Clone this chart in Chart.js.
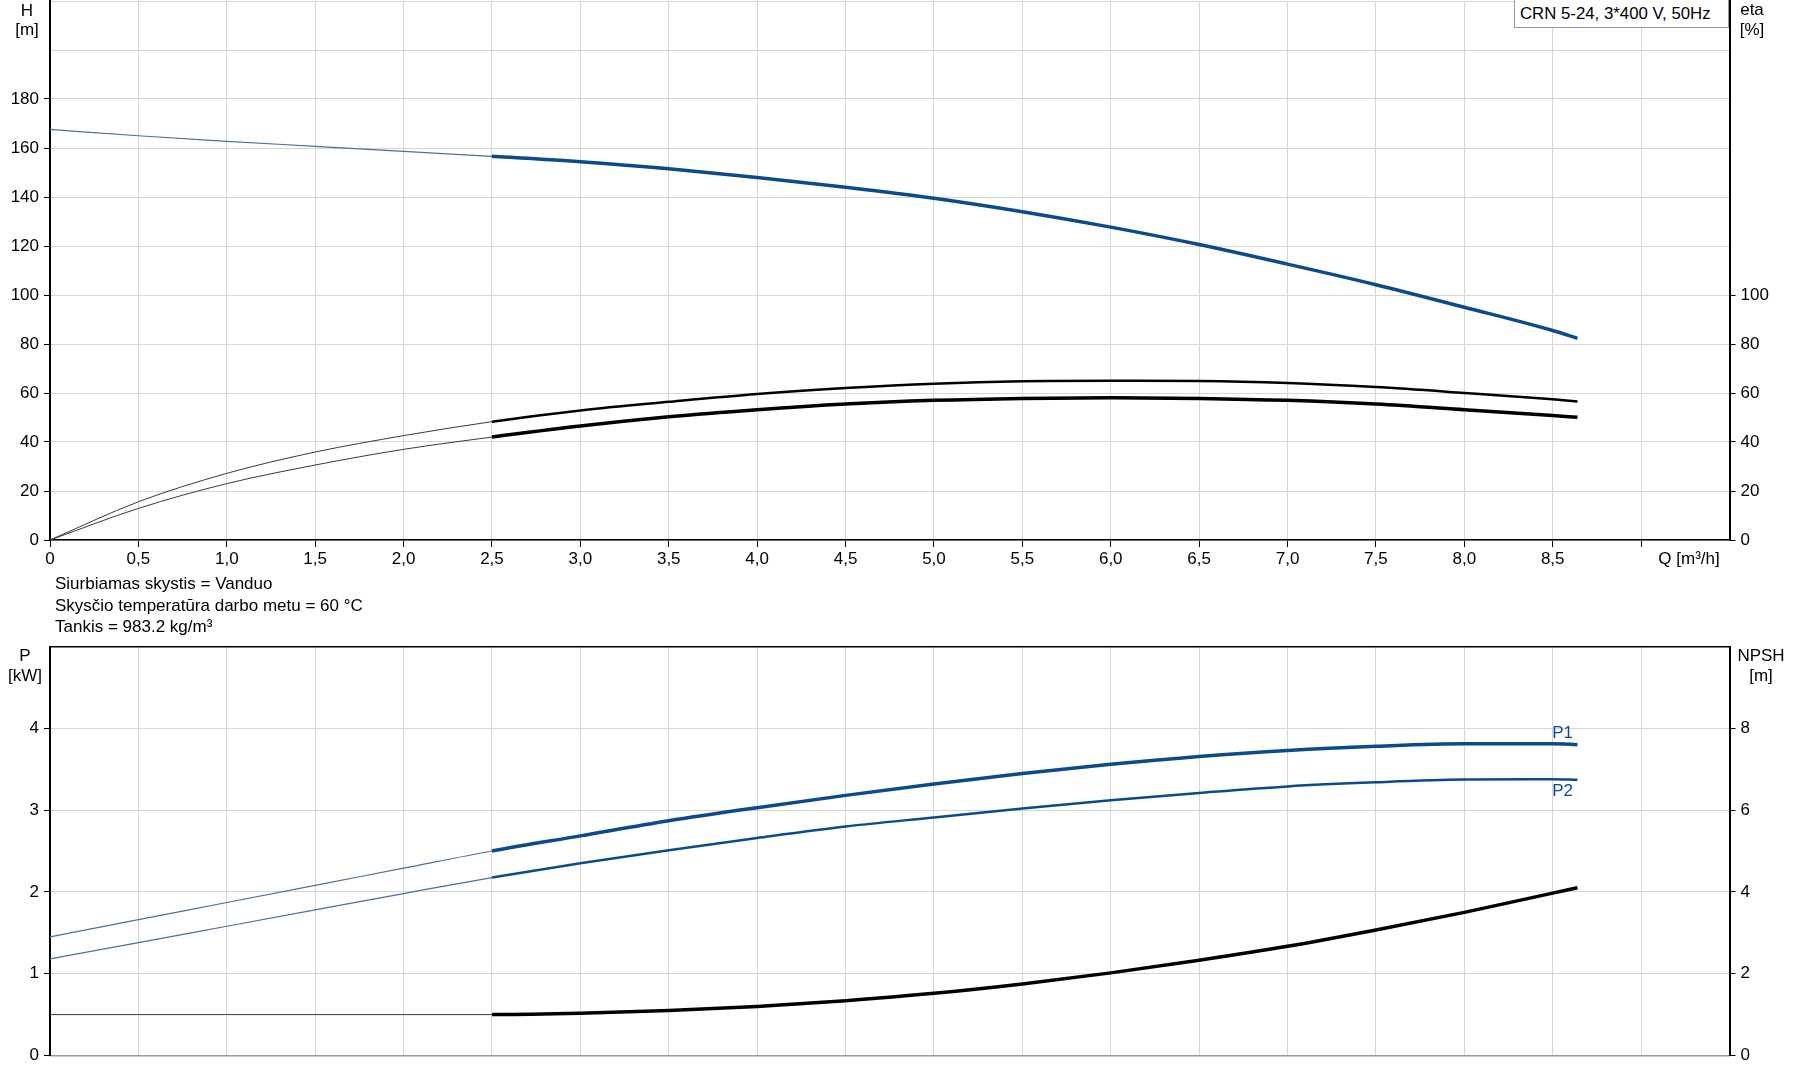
<!DOCTYPE html>
<html><head><meta charset="utf-8">
<script src="https://cdn.jsdelivr.net/npm/chart.js@4"></script>
<style>
html,body{margin:0;padding:0;background:#fff}
body{width:1795px;height:1081px;overflow:hidden;position:relative;font-family:"Liberation Sans",Arial,sans-serif;font-size:17px;color:#000}
canvas{position:absolute;left:0}
.t{position:absolute;white-space:nowrap;line-height:1;transform:translate(-50%,-50%)}
.l{position:absolute;white-space:nowrap;line-height:1;transform:translate(0,-50%)}
#legend{position:absolute;left:1514px;top:0;width:215px;height:28px;border:1px solid #9a9a9a;border-top:none;box-sizing:border-box;background:#fff}
#legend span{position:absolute;left:5px;top:14px;transform:translateY(-50%);white-space:nowrap;line-height:1;font-size:16.8px}
</style></head><body>
<canvas id="topc" width="1795" height="575" style="top:0"></canvas>
<canvas id="botc" width="1795" height="481" style="top:600px"></canvas>

<div id="legend"><span>CRN 5-24, 3*400 V, 50Hz</span></div>
<div class="t" style="left:27px;top:10px">H</div>
<div class="t" style="left:27px;top:29px">[m]</div>
<div class="t" style="left:1752px;top:9px">eta</div>
<div class="t" style="left:1752px;top:29px">[%]</div>
<div class="t" style="left:1689px;top:558px">Q [m³/h]</div>
<div class="l" style="left:55px;top:583px">Siurbiamas skystis = Vanduo</div>
<div class="l" style="left:55px;top:605px">Skysčio temperatūra darbo metu = 60 °C</div>
<div class="l" style="left:55px;top:626px">Tankis = 983.2 kg/m³</div>
<div class="t" style="left:25px;top:655px">P</div>
<div class="t" style="left:25px;top:675px">[kW]</div>
<div class="t" style="left:1761px;top:655px">NPSH</div>
<div class="t" style="left:1761px;top:675px">[m]</div>

<script>
// ---- data ----
const Q        = [0, 0.5, 1, 1.5, 2, 2.5, 3, 3.5, 4, 4.5, 5, 5.5, 6, 6.5, 7, 7.5, 8, 8.5, 8.64];
const H        = [167.6, 165.0, 162.7, 160.7, 158.6, 156.6, 154.4, 151.5, 148.0, 144.0, 139.5, 134.0, 127.7, 120.6, 112.6, 104.2, 95.0, 85.5, 82.3];
const ETA      = [0, 15.6, 27.2, 35.9, 42.6, 48.3, 52.9, 56.4, 59.6, 62.0, 63.8, 64.8, 65.0, 64.9, 64.1, 62.4, 60.0, 57.4, 56.5];
const ETA_TOT  = [0, 12.9, 23.0, 30.6, 37.0, 42.0, 46.5, 50.3, 53.2, 55.5, 57.0, 57.8, 58.1, 57.8, 57.0, 55.5, 53.2, 50.8, 50.1];
const P1       = [1.45, 1.66, 1.87, 2.08, 2.29, 2.50, 2.685, 2.87, 3.03, 3.18, 3.32, 3.447, 3.56, 3.656, 3.73, 3.78, 3.81, 3.81, 3.80];
const P2       = [1.18, 1.38, 1.58, 1.78, 1.98, 2.175, 2.35, 2.51, 2.66, 2.80, 2.91, 3.02, 3.12, 3.21, 3.29, 3.34, 3.373, 3.377, 3.37];
const NPSH     = [1.0, 1.0, 1.0, 1.0, 1.0, 1.0, 1.03, 1.1, 1.2, 1.34, 1.52, 1.75, 2.02, 2.33, 2.67, 3.07, 3.5, 3.97, 4.1];

const X_TICKS  = [0,0.5,1,1.5,2,2.5,3,3.5,4,4.5,5,5.5,6,6.5,7,7.5,8,8.5,9,9.5];
const X_LABELS = ['0','0,5','1,0','1,5','2,0','2,5','3,0','3,5','4,0','4,5','5,0','5,5','6,0','6,5','7,0','7,5','8,0','8,5','',''];
const H_TICKS  = [0,20,40,60,80,100,120,140,160,180,200,220];
const H_LABELS = ['0','20','40','60','80','100','120','140','160','180','',''];
const ETA_TICKS  = [0,20,40,60,80,100,120,140,160,180,200,220];
const ETA_LABELS = ['0','20','40','60','80','100','','','','','',''];
const P_TICKS  = [0,1,2,3,4,5];
const P_LABELS = ['0','1','2','3','4',''];
const N_TICKS  = [0,2,4,6,8,10];
const N_LABELS = ['0','2','4','6','8',''];
const DUTY_START = 2.5;

// ---- styling ----
const FONT = {family:'"Liberation Sans", Arial, sans-serif', size:17};
const BLUE = '#0b4b8c';
const THIN_BLUE = '#4f6f96';
const THIN_BLACK = '#3a3a3a';
const GRID = '#d6d6d6';

function pts(ys){ return Q.map((q,i)=>({x:q, y:ys[i]})); }
function line(label, ys, axis, thinC, thickC, thinW, thickW){
  return {
    label, data: pts(ys), yAxisID: axis,
    borderColor: thickC, borderWidth: thickW, pointRadius: 0, fill: false,
    cubicInterpolationMode: 'monotone', borderCapStyle: 'butt',
    segment: {
      borderColor: c => Q[c.p0DataIndex] < DUTY_START ? thinC : thickC,
      borderWidth: c => Q[c.p0DataIndex] < DUTY_START ? thinW : thickW
    }
  };
}
function fixedTicks(vals){ return s => { s.ticks = vals.map(v => ({value:v})); }; }
function xScale(showLabels, h, borderColor){
  return {
    type:'linear', min:0, max:9.5,
    afterBuildTicks: fixedTicks(X_TICKS),
    ticks:{display:showLabels, autoSkip:false, maxRotation:0, minRotation:0, padding:2, font:FONT, color:'#000',
      callback:(v,i)=>X_LABELS[i]},
    grid:{color:GRID, lineWidth:1, drawTicks:showLabels, tickLength:7,
      tickColor:c => (c.tick && c.tick.value > 9.01) ? 'rgba(0,0,0,0)' : '#000', tickWidth:1},
    border:{color:borderColor, width:1.5},
    afterFit(s){ s.height = h; s.paddingLeft = 0; s.paddingRight = 0; }
  };
}
function yScale(pos, max, ticks, labels, width, onArea, topBlack){
  return {
    type:'linear', position:pos, min:0, max:max,
    afterBuildTicks: fixedTicks(ticks),
    ticks:{autoSkip:false, padding:5, font:FONT, color:'#000', callback:(v,i)=>labels[i]},
    grid:{drawOnChartArea:onArea, tickLength:6, tickWidth:1,
      color:c => (topBlack && c.tick && c.tick.value === max) ? '#000' : GRID,
      lineWidth:c => (topBlack && c.tick && c.tick.value === max) ? 1.5 : 1,
      tickColor:c => (c.index !== undefined && labels[c.index] !== '') ? '#000' : 'rgba(0,0,0,0)'},
    border:{color:'#000', width:2},
    afterFit(s){ s.width = width; s.paddingTop = 0; s.paddingBottom = 0; }
  };
}

const common = {
  responsive:false, animation:false, devicePixelRatio:1,
  plugins:{legend:{display:false}, tooltip:{enabled:false}, title:{display:false}},
  events:[]
};

new Chart(document.getElementById('topc'), {
  type:'line',
  data:{datasets:[
    line('H', H, 'y', THIN_BLUE, BLUE, 1.2, 3.5),
    line('eta', ETA, 'y2', THIN_BLACK, '#000', 1, 2.5),
    line('eta tot', ETA_TOT, 'y2', THIN_BLACK, '#000', 1, 3.5)
  ]},
  options:Object.assign({}, common, {
    layout:{padding:{top:1, left:0, right:0, bottom:0}},
    scales:{
      x: xScale(true, 35, '#000'),
      y: yScale('left', 220, H_TICKS, H_LABELS, 50, true, false),
      y2: yScale('right', 220, ETA_TICKS, ETA_LABELS, 65.5, false, false)
    }
  })
});

const curveLabels = {
  id:'curveLabels',
  afterDatasetsDraw(chart){
    const {ctx, scales:{x, y}} = chart;
    ctx.save();
    ctx.font = '17px "Liberation Sans", Arial, sans-serif';
    ctx.fillStyle = BLUE; ctx.textAlign = 'center'; ctx.textBaseline = 'middle';
    ctx.fillText('P1', x.getPixelForValue(8.556), y.getPixelForValue(3.94));
    ctx.fillText('P2', x.getPixelForValue(8.556), y.getPixelForValue(3.23));
    ctx.restore();
  }
};

new Chart(document.getElementById('botc'), {
  type:'line',
  data:{datasets:[
    line('P1', P1, 'y', THIN_BLUE, BLUE, 1.2, 3.5),
    line('P2', P2, 'y', THIN_BLUE, BLUE, 1.2, 2.5),
    line('NPSH', NPSH, 'y2', THIN_BLACK, '#000', 1, 3.5)
  ]},
  options:Object.assign({}, common, {
    layout:{padding:{top:46.5, left:0, right:0, bottom:0}},
    scales:{
      x: xScale(false, 25.5, '#9a9a9a'),
      y: yScale('left', 5, P_TICKS, P_LABELS, 50, true, true),
      y2: yScale('right', 10, N_TICKS, N_LABELS, 65.5, false, false)
    }
  }),
  plugins:[curveLabels]
});
</script>
</body></html>
